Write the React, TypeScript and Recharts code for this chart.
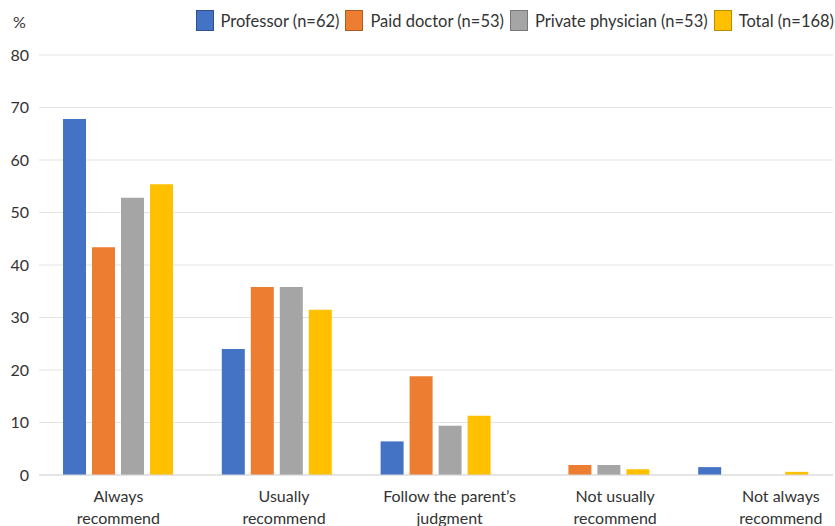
import React from 'react';
import { BarChart, Bar, XAxis, YAxis, CartesianGrid } from 'recharts';

const categories = [
  'Always recommend',
  'Usually recommend',
  'Follow the parent\u2019s judgment',
  'Not usually recommend',
  'Not always recommend',
];
const professor = [67.8, 24.0, 6.4, 0, 1.5];
const paidDoctor = [43.4, 35.8, 18.8, 1.9, 0];
const privatePhysician = [52.8, 35.8, 9.4, 1.9, 0];
const total = [55.4, 31.5, 11.3, 1.1, 0.6];
const yTicks = [0, 10, 20, 30, 40, 50, 60, 70, 80];

const series = [
  { key: 'professor', name: 'Professor (n=62)', color: '#4472C4', border: '#2F528F' },
  { key: 'paidDoctor', name: 'Paid doctor (n=53)', color: '#ED7D31', border: '#AE5A21' },
  { key: 'privatePhysician', name: 'Private physician (n=53)', color: '#A5A5A5', border: '#787878' },
  { key: 'total', name: 'Total (n=168)', color: '#FFC000', border: '#BC8C00' },
];

const data = categories.map((name, i) => ({
  name,
  professor: professor[i],
  paidDoctor: paidDoctor[i],
  privatePhysician: privatePhysician[i],
  total: total[i],
}));

// split labels into two lines like the original
const labelLines: Record<string, string[]> = {
  'Always recommend': ['Always', 'recommend'],
  'Usually recommend': ['Usually', 'recommend'],
  'Follow the parent\u2019s judgment': ['Follow the parent\u2019s', 'judgment'],
  'Not usually recommend': ['Not usually', 'recommend'],
  'Not always recommend': ['Not always', 'recommend'],
};

const FONT = 'Lato, "Open Sans", sans-serif';
const TEXT = '#333333';

const CategoryTick = (props: any) => {
  const { x, y, payload, index } = props;
  const lines = labelLines[payload.value] || [payload.value];
  const shift = index * 6.8;
  return (
    <g transform={`translate(${x + shift},${y})`}>
      {lines.map((l: string, i: number) => (
        <text key={i} x={0} y={19 + i * 22} textAnchor="middle" fill={TEXT} fontSize={16} fontFamily={FONT}>
          {l}
        </text>
      ))}
    </g>
  );
};

const ChartLegend = () => (
  <div
    style={{
      position: 'absolute',
      right: 1,
      top: 10,
      display: 'flex',
      alignItems: 'center',
      fontFamily: FONT,
      fontSize: 16.5,
      color: TEXT,
    }}
  >
    {series.map((s) => (
      <div key={s.key} style={{ display: 'flex', alignItems: 'center', marginLeft: 6 }}>
        <span
          style={{
            display: 'inline-block',
            width: 18,
            height: 21,
            background: s.color,
            border: `1px solid ${s.border}`,
            boxSizing: 'border-box',
            marginRight: 7,
          }}
        />
        <span>{s.name}</span>
      </div>
    ))}
  </div>
);

export default function App() {
  return (
    <div style={{ position: 'relative', width: 835, height: 526, background: '#fff' }}>
      <style>{'body{margin:0}'}</style>
      <div style={{ position: 'absolute', left: 13, top: 12, fontFamily: FONT, fontSize: 16, color: TEXT }}>%</div>
      <ChartLegend />
      <BarChart
        width={835}
        height={526}
        data={data}
        margin={{ top: 55, right: 2, left: 0, bottom: 0 }}
        barGap={6}
        barCategoryGap={24}
      >
        <CartesianGrid vertical={false} stroke="#e3e3e3" />
        <XAxis
          dataKey="name"
          height={51}
          tickLine={false}
          axisLine={{ stroke: '#d9d9d9' }}
          tick={<CategoryTick />}
          interval={0}
        />
        <YAxis
          width={39}
          domain={[0, 80]}
          ticks={yTicks}
          axisLine={false}
          tickLine={false}
          tickMargin={4}
          tick={{ fill: TEXT, fontSize: 16, fontFamily: FONT }}
        />
        {series.map((s) => (
          <Bar key={s.key} dataKey={s.key} name={s.name} fill={s.color} barSize={23} isAnimationActive={false} />
        ))}
      </BarChart>
    </div>
  );
}
